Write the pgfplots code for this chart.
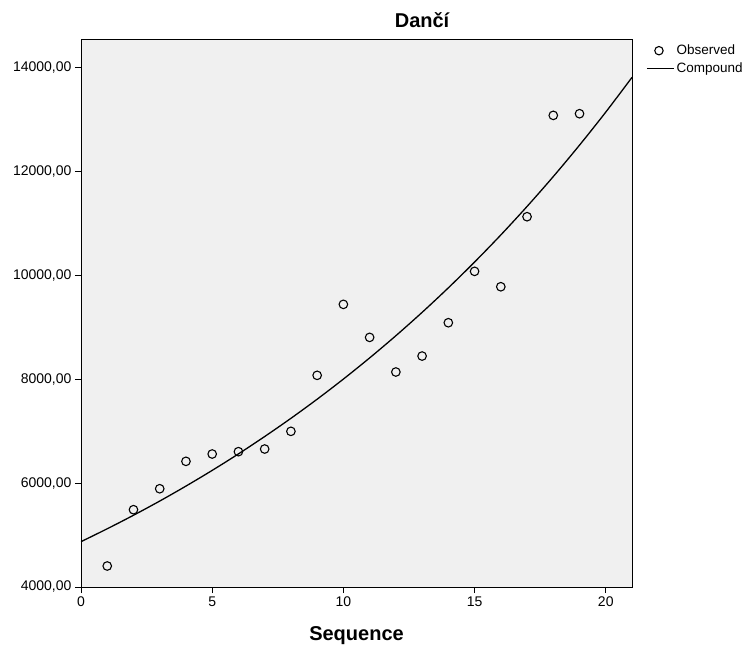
\documentclass[border=0pt]{standalone}
\usepackage{fontspec}
\setmainfont{Liberation Sans}
\usepackage{pgfplots}
\pgfplotsset{compat=1.18}
\definecolor{plotbg}{RGB}{240,240,240}
\pgfplotsset{
    legobs/.style={legend image code/.code={\draw[##1, mark size=4.2pt] plot coordinates {(12pt,0pt)}; \path (0pt,0pt) (29pt,0pt);}},
    legcmp/.style={legend image code/.code={\draw[##1] (0pt,0pt) -- (27pt,0pt); \path (29pt,0pt);}},
}

\begin{document}
\begin{tikzpicture}
\useasboundingbox (-81pt,-59pt) rectangle (668pt,587pt);
\begin{axis}[
    at={(0pt,0pt)}, anchor=south west,
    scale only axis,
    width=551pt, height=548pt,
    xmin=0, xmax=21,
    ymin=4000, ymax=14540,
    xtick={0,5,10,15,20},
    ytick={4000,6000,8000,10000,12000,14000},
    scaled y ticks=false,
    tick pos=left,
    tick align=outside,
    major tick length=6pt,
    tick style={black, line width=0.9pt},
    axis line style={black, line width=0.9pt},
    axis background/.style={fill=plotbg},
    ticklabel style={font=\fontsize{14}{16}\selectfont},
    /pgf/number format/assume math mode=true,
    yticklabel style={/pgf/number format/.cd, fixed, fixed zerofill, precision=2, use comma, 1000 sep={}},
    xlabel={\bfseries Sequence},
    xlabel style={font=\fontsize{20}{22}\selectfont, at={(axis description cs:0.5,0)}, anchor=base, yshift=-53pt},
    title={\bfseries Dančí},
    title style={font=\fontsize{20}{22}\selectfont, at={(axis description cs:0.619,1)}, anchor=base, yshift=5pt},
    legend style={at={(1.0256,0.9909)}, anchor=north west, draw=none, fill=none,
        font=\fontsize{13.5}{15}\selectfont, row sep=5pt, inner sep=0pt,
        nodes={inner sep=0pt, text height=10pt, text depth=3pt}},
    legend cell align=left,
]
\addplot[only marks, mark=o, mark size=4.3pt, mark options={line width=1.1pt, black}, legobs] coordinates {
    (1,4404) (2,5487) (3,5890) (4,6417) (5,6558) (6,6603) (7,6654)
    (8,6994) (9,8071) (10,9436) (11,8801) (12,8135) (13,8442) (14,9083)
    (15,10071) (16,9775) (17,11122) (18,13071) (19,13103)
};
\addlegendentry{Observed}
\addplot[black, line width=1.3pt, smooth, no marks, legcmp] coordinates {
    (0,4872) (1,5120) (2,5380) (3,5653) (4,5941) (5,6243) (6,6560)
    (7,6894) (8,7244) (9,7612) (10,7999) (11,8406) (12,8833) (13,9282)
    (14,9754) (15,10250) (16,10771) (17,11319) (18,11894) (19,12499)
    (20,13134) (21,13802)
};
\addlegendentry{Compound}
\end{axis}
\end{tikzpicture}
\end{document}
